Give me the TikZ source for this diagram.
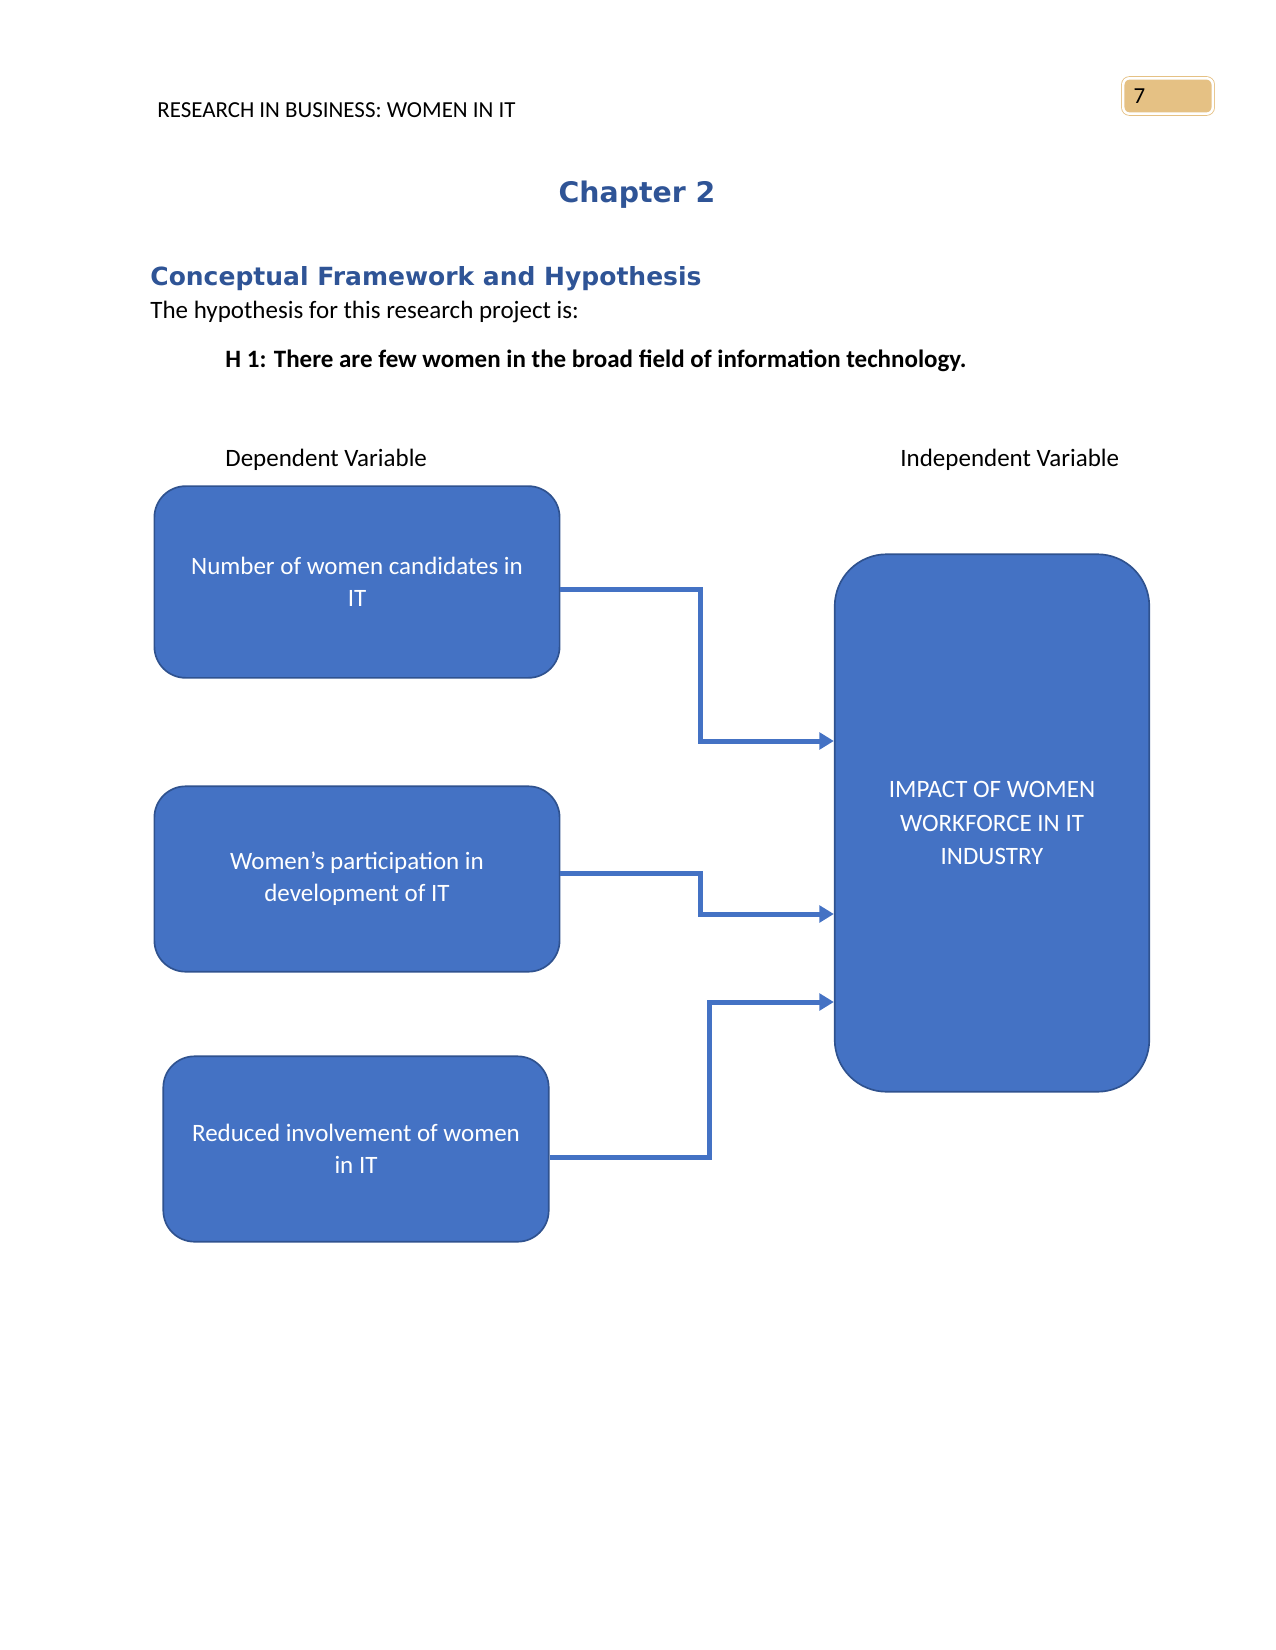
\documentclass[tikz,border=0pt]{standalone}
\usepackage{fontspec}
\setmainfont{Carlito}
\newfontfamily\headfont{DejaVu Sans}
\usetikzlibrary{arrows.meta, positioning}
\definecolor{boxblue}{RGB}{68, 114, 196}
\definecolor{boxline}{RGB}{47, 82, 143}
\definecolor{headblue}{RGB}{47, 84, 150}
\definecolor{tabfill}{RGB}{229, 193, 132}

\begin{document}
\begin{tikzpicture}[x=0.48pt, y=-0.48pt,
        % Body text is Carlito 12pt
        font=\fontsize{12}{15}\selectfont,
        % Styles for the boxes and the links between them
        varbox/.style={draw=boxline, fill=boxblue, line width=0.8pt, rounded corners=15pt,
            text=white, align=center, inner sep=0pt, font=\fontsize{12}{15.5}\selectfont},
        impactbox/.style={varbox, rounded corners=25pt, font=\fontsize{12}{16}\selectfont},
        link/.style={draw=boxblue, line width=2.4pt, -{Triangle[length=7pt, width=8pt]}},
        heading/.style={font=\headfont\bfseries\fontsize{13.6}{15}\selectfont, text=headblue, inner sep=0pt},
        plain/.style={inner sep=0pt, anchor=west}
    ]

    \useasboundingbox (0,0) rectangle (1275,1650);

    % Running head and page number
    \node[plain, font=\fontsize{11}{13}\selectfont] (runhead) at (157,110) {RESEARCH IN BUSINESS: WOMEN IN IT};
    \node[draw=tabfill, double=white, double distance=1.2pt, fill=tabfill, rounded corners=3pt,
          minimum width=43pt, minimum height=17pt, font=\fontsize{11}{13}\selectfont,
          text width=33pt, align=left] (pagenum) at (1168,96) {7};

    % Headings
    \node[heading] (chapter) at (637,195) {Chapter 2};
    \node[heading, anchor=west, font=\headfont\bfseries\fontsize{12}{14}\selectfont] (section) at (150,279) {Conceptual Framework and Hypothesis};
    \node[plain] (intro) at (150,312) {The hypothesis for this research project is:};
    \node[plain, font=\bfseries\fontsize{12}{15}\selectfont] (hypo) at (225,361) {H 1: There are few women in the broad field of information technology.};

    \node[plain] (deplabel) at (225,460) {Dependent Variable};
    \node[plain] (indeplabel) at (900,460) {Independent Variable};

    % Variable boxes
    \node[varbox, minimum width=194.5pt, minimum height=92pt] (number) at (357,582)
        {Number of women candidates in\\IT};
    \node[varbox, minimum width=194.5pt, minimum height=89pt] (partic) at (357,879)
        {Women’s participation in\\development of IT};
    \node[varbox, minimum width=185pt, minimum height=89pt] (reduced) at (356,1149)
        {Reduced involvement of women\\in IT};
    \node[impactbox, minimum width=151pt, minimum height=258pt] (impact) at (992,823)
        {IMPACT OF WOMEN\\WORKFORCE IN IT\\INDUSTRY};

    % Links into the impact box
    \draw[link] (number.east |- 0,589) -| (700,741) -- (impact.west |- 0,741);
    \draw[link] (partic.east |- 0,873) -| (700,914) -- (impact.west |- 0,914);
    \draw[link] (reduced.east |- 0,1157) -| (709,1002) -- (impact.west |- 0,1002);

\end{tikzpicture}
\end{document}
